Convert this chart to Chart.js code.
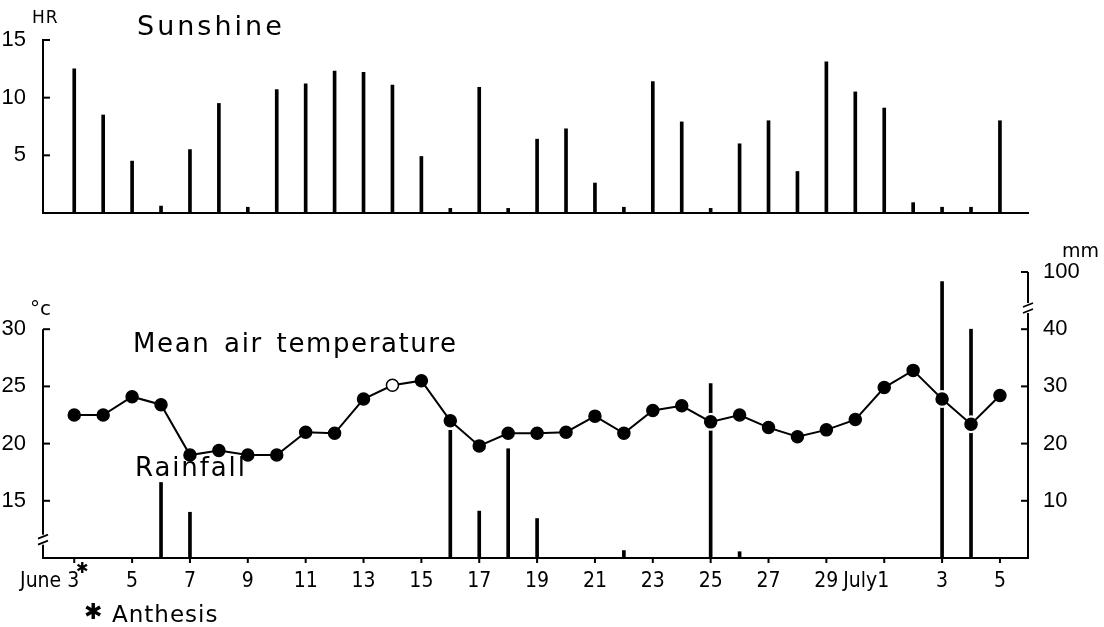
<!DOCTYPE html>
<html>
<head>
<meta charset="utf-8">
<script src="https://cdn.jsdelivr.net/npm/chart.js@4.4.1/dist/chart.umd.min.js"></script>
<style>
  body { margin: 0; background: #fff; }
  #wrap { position: relative; width: 1104px; height: 627px; overflow: hidden; background: #fff; }
  #wrap canvas { position: absolute; left: 0; top: 0; }
  .lbl { position: absolute; font-family: "DejaVu Sans", sans-serif; color: #000; line-height: 1; white-space: nowrap; }
</style>
</head>
<body>
<div id="wrap">
  <canvas id="sun-canvas" width="1104" height="627" style="width:1104px;height:627px"></canvas>
  <canvas id="weather-canvas" width="1104" height="627" style="width:1104px;height:627px"></canvas>

  <div class="lbl" style="left:32px;top:9px;font-size:17px;letter-spacing:1px">HR</div>
  <div class="lbl" style="left:137px;top:12px;font-size:27px;letter-spacing:3px">Sunshine</div>
  <div class="lbl" style="left:30px;top:298px;font-size:20px">°c</div>
  <div class="lbl" style="left:1062px;top:241px;font-size:19px">mm</div>
  <div class="lbl" style="left:133px;top:330px;font-size:26px;letter-spacing:1.6px;word-spacing:4px">Mean air temperature</div>
  <div class="lbl" style="left:135px;top:454px;font-size:26px;letter-spacing:1.9px">Rainfall</div>
  <div class="lbl" style="left:76px;top:561px;font-size:15px">✱</div>
  <div class="lbl" style="left:84px;top:601px;font-size:22px">✱</div>
  <div class="lbl" style="left:112px;top:603px;font-size:23px;letter-spacing:1px">Anthesis</div>
</div>

<script>
//------------------------ DATA ----------------------------

const days = [
  "Jun 3", "Jun 4", "Jun 5", "Jun 6", "Jun 7", "Jun 8", "Jun 9", "Jun 10", "Jun 11", "Jun 12",
  "Jun 13", "Jun 14", "Jun 15", "Jun 16", "Jun 17", "Jun 18", "Jun 19", "Jun 20", "Jun 21", "Jun 22",
  "Jun 23", "Jun 24", "Jun 25", "Jun 26", "Jun 27", "Jun 28", "Jun 29", "Jun 30", "Jul 1", "Jul 2",
  "Jul 3", "Jul 4", "Jul 5"
];

// hours of sunshine per day
const sunshineHr = [
  12.5, 8.5, 4.5, 0.6, 5.5, 9.5, 0.5, 10.7, 11.2, 12.3,
  12.2, 11.1, 4.9, 0.4, 10.9, 0.4, 6.4, 7.3, 2.6, 0.5,
  11.4, 7.9, 0.4, 6.0, 8.0, 3.6, 13.1, 10.5, 9.1, 0.9,
  0.5, 0.5, 8.0
];

// mean air temperature, deg C
const meanTempC = [
  22.5, 22.5, 24.1, 23.4, 19.0, 19.4, 19.0, 19.0, 21.0, 20.9,
  23.9, 25.1, 25.5, 22.0, 19.8, 20.9, 20.9, 21.0, 22.4, 20.9,
  22.9, 23.3, 21.9, 22.5, 21.4, 20.6, 21.2, 22.1, 24.9, 26.4,
  23.9, 21.7, 24.2
];

// daily rainfall, mm
const rainfallMm = [
  0, 0, 0, 13.2, 8.0, 0, 0, 0, 0, 0,
  0, 0, 0, 22.3, 8.2, 19.1, 6.9, 0, 0, 1.3,
  0, 0, 30.5, 1.1, 0, 0, 0, 0, 0, 0,
  90, 40, 0
];

// day drawn as an open circle
const openPointDays = ["Jun 14"];

// axis ticks
const xTickDates = ["Jun 3", "Jun 5", "Jun 7", "Jun 9", "Jun 11", "Jun 13", "Jun 15", "Jun 17", "Jun 19",
  "Jun 21", "Jun 23", "Jun 25", "Jun 27", "Jun 29", "Jul 1", "Jul 3", "Jul 5"];
const xTickLabels = ["June 3", "5", "7", "9", "11", "13", "15", "17", "19",
  "21", "23", "25", "27", "29", "July1", "3", "5"];
const sunTicks = [5, 10, 15];
const tempTicks = [15, 20, 25, 30];
const rainTicks = [10, 20, 30, 40, 100];

//------------------------ HELPERS ----------------------------

const BLACK = "#000";
const tickFont = { family: "'Liberation Sans', Arial, sans-serif", size: 22 };
const xFont = "21px 'Liberation Sans Narrow', 'DejaVu Sans Condensed', sans-serif";

// rainfall axis is broken above 40 mm: 40..100 mm squeezed into 10 units
const RAIN_BREAK = 40, RAIN_TOP = 100, RAIN_AXIS_MAX = 50;
function rainPos(v) {
  if (v <= RAIN_BREAK) return v;
  return RAIN_BREAK + (v - RAIN_BREAK) * (RAIN_AXIS_MAX - RAIN_BREAK) / (RAIN_TOP - RAIN_BREAK);
}

function line(ctx, x1, y1, x2, y2) {
  ctx.beginPath();
  ctx.moveTo(x1, y1);
  ctx.lineTo(x2, y2);
  ctx.stroke();
}

// the "//" break sign on an axis
function breakMark(ctx, x, y) {
  ctx.save();
  ctx.strokeStyle = "#fff";
  ctx.lineWidth = 6;
  line(ctx, x, y - 5, x, y + 5);
  ctx.strokeStyle = BLACK;
  ctx.lineWidth = 1.8;
  line(ctx, x - 5, y - 1, x + 5, y - 5);
  line(ctx, x - 5, y + 5, x + 5, y + 1);
  ctx.restore();
}

const xMin = -1.08, xMax = 32.97;

//------------------------ SUNSHINE CHART ----------------------------

const sunAxes = {
  id: "sunAxes",
  afterDraw(chart) {
    const ctx = chart.ctx, y = chart.scales.y;
    ctx.save();
    ctx.strokeStyle = BLACK;
    ctx.lineWidth = 2;
    sunTicks.forEach(v => {
      const py = y.getPixelForValue(v);
      line(ctx, y.right, py, y.right + 7, py);
    });
    ctx.restore();
  }
};

new Chart(document.getElementById("sun-canvas"), {
  type: "bar",
  data: {
    datasets: [{
      data: days.map((d, i) => ({ x: i, y: sunshineHr[i] })),
      backgroundColor: BLACK,
      barThickness: 3,
      borderWidth: 0,
    }],
  },
  options: {
    responsive: false,
    devicePixelRatio: 1,
    animation: false,
    events: [],
    layout: { padding: { top: 40, bottom: 414, left: 0, right: 76 } },
    plugins: { legend: { display: false }, tooltip: { enabled: false } },
    scales: {
      x: {
        type: "linear",
        min: xMin,
        max: xMax,
        offset: false,
        grid: { display: false },
        ticks: { display: false },
        border: { display: true, color: BLACK, width: 2 },
        afterFit: s => { s.height = 0; },
      },
      y: {
        min: 0,
        max: 15,
        grid: { display: false },
        border: { display: true, color: BLACK, width: 2 },
        afterBuildTicks: axis => { axis.ticks = sunTicks.map(v => ({ value: v })); },
        ticks: { color: BLACK, font: tickFont, padding: 9, autoSkip: false },
        afterFit: s => { s.width = 43; },
      },
    },
  },
  plugins: [sunAxes],
});

//------------------------ TEMPERATURE & RAINFALL CHART ----------------------------

const weatherAxes = {
  id: "weatherAxes",
  afterDraw(chart) {
    const ctx = chart.ctx, area = chart.chartArea;
    const x = chart.scales.x, yT = chart.scales.yT, yR = chart.scales.yR;
    ctx.save();
    ctx.strokeStyle = BLACK;
    ctx.fillStyle = BLACK;
    ctx.lineWidth = 2;

    // left axis, from 30 down to the baseline
    line(ctx, area.left, yT.getPixelForValue(30), area.left, area.bottom);
    tempTicks.forEach(v => {
      const py = yT.getPixelForValue(v);
      line(ctx, area.left, py, area.left + 7, py);
    });
    breakMark(ctx, area.left, yT.getPixelForValue(11.6));

    // right axis
    line(ctx, area.right, area.top, area.right, area.bottom);
    rainTicks.forEach(v => {
      const py = yR.getPixelForValue(rainPos(v));
      line(ctx, area.right, py, area.right - 7, py);
    });
    breakMark(ctx, area.right, yR.getPixelForValue(43.7));

    // date ticks and labels
    ctx.font = xFont;
    ctx.textBaseline = "alphabetic";
    xTickDates.forEach((d, k) => {
      const px = x.getPixelForValue(days.indexOf(d));
      line(ctx, px, area.bottom, px, area.bottom + 5);
      const txt = xTickLabels[k];
      if (/[A-Za-z]/.test(txt)) {
        ctx.textAlign = "right";
        ctx.fillText(txt, px + 5, area.bottom + 29);
      } else {
        ctx.textAlign = "center";
        ctx.fillText(txt, px, area.bottom + 29);
      }
    });
    ctx.restore();
  }
};

const tempPoints = days.map((d, i) => ({ x: i, y: meanTempC[i] }));

new Chart(document.getElementById("weather-canvas"), {
  type: "bar",
  data: {
    datasets: [
      {
        // rainfall
        type: "bar",
        yAxisID: "yR",
        data: days.map((d, i) => ({ x: i, y: rainPos(rainfallMm[i]) })),
        backgroundColor: BLACK,
        barThickness: 3,
        borderWidth: 0,
        order: 3,
      },
      {
        // white halo so the line sits in front of the rain bars
        type: "line",
        yAxisID: "yT",
        data: tempPoints,
        borderColor: "#fff",
        borderWidth: 6,
        pointRadius: 9,
        pointBackgroundColor: "#fff",
        pointBorderWidth: 0,
        tension: 0,
        order: 2,
      },
      {
        // mean air temperature
        type: "line",
        yAxisID: "yT",
        data: tempPoints,
        borderColor: BLACK,
        borderWidth: 2,
        pointRadius: 6,
        pointBackgroundColor: days.map(d => openPointDays.includes(d) ? "#fff" : BLACK),
        pointBorderColor: BLACK,
        pointBorderWidth: 1.5,
        tension: 0,
        order: 1,
      },
    ],
  },
  options: {
    responsive: false,
    devicePixelRatio: 1,
    animation: false,
    events: [],
    layout: { padding: { top: 272, bottom: 0, left: 0, right: 0 } },
    plugins: { legend: { display: false }, tooltip: { enabled: false } },
    scales: {
      x: {
        type: "linear",
        min: xMin,
        max: xMax,
        offset: false,
        grid: { display: false },
        ticks: { display: false },
        border: { display: true, color: BLACK, width: 2 },
        afterFit: s => { s.height = 69; },
      },
      yT: {
        position: "left",
        min: 10,
        max: 35,
        grid: { display: false },
        border: { display: false },
        afterBuildTicks: axis => { axis.ticks = tempTicks.map(v => ({ value: v })); },
        ticks: { color: BLACK, font: tickFont, padding: 9, autoSkip: false },
        afterFit: s => { s.width = 43; },
      },
      yR: {
        position: "right",
        min: 0,
        max: RAIN_AXIS_MAX,
        grid: { display: false },
        border: { display: false },
        afterBuildTicks: axis => { axis.ticks = rainTicks.map(v => ({ value: rainPos(v) })); },
        ticks: {
          color: BLACK,
          font: tickFont,
          padding: 7,
          autoSkip: false,
          callback: (val, idx) => String(rainTicks[idx]),
        },
        afterFit: s => { s.width = 76; },
      },
    },
  },
  plugins: [weatherAxes],
});
</script>
</body>
</html>
